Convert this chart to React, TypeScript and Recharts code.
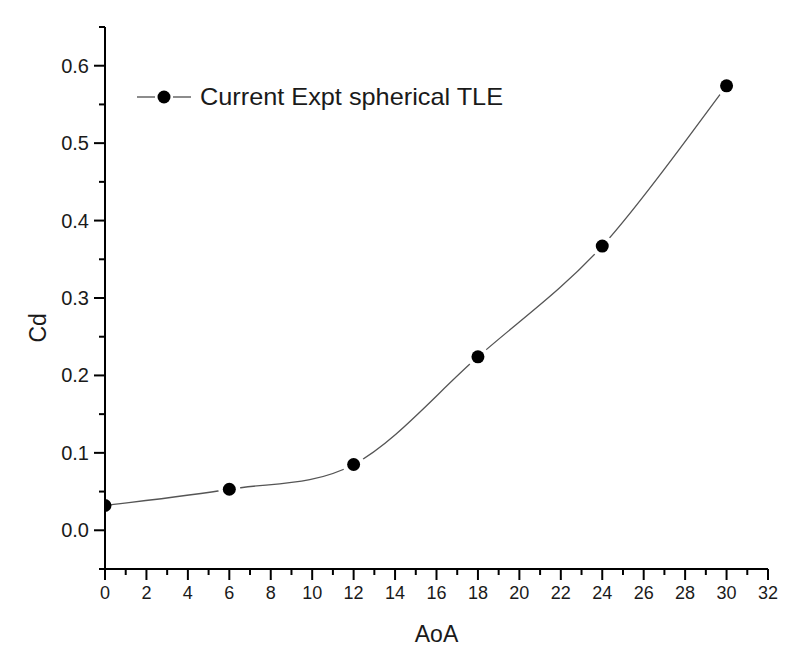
import React from 'react';
import { LineChart, Line, XAxis, YAxis, Legend } from 'recharts';

const aoa = [0, 6, 12, 18, 24, 30];
const cd = [0.032, 0.053, 0.085, 0.224, 0.367, 0.574];
const seriesName = 'Current Expt spherical TLE';
const xTicks = Array.from({ length: 33 }, (_, i) => i);
const yTicks = [-0.05, 0, 0.05, 0.1, 0.15, 0.2, 0.25, 0.3, 0.35, 0.4, 0.45, 0.5, 0.55, 0.6, 0.65];
const yMajor = [0, 0.1, 0.2, 0.3, 0.4, 0.5, 0.6];

const data = aoa.map((a, i) => ({ aoa: a, cd: cd[i] }));

const FONT = '"Liberation Sans", Arial, sans-serif';
const TEXT = '#1a1a1a';

// Catmull-Rom style smoothing (cardinal spline, tension 0)
function smoothCurve(context: any) {
  let pts: [number, number][] = [];
  return {
    areaStart() {},
    areaEnd() {},
    lineStart() {
      pts = [];
    },
    lineEnd() {
      const n = pts.length;
      if (n === 0) return;
      context.moveTo(pts[0][0], pts[0][1]);
      for (let i = 0; i < n - 1; i++) {
        const p0 = pts[Math.max(0, i - 1)];
        const p1 = pts[i];
        const p2 = pts[i + 1];
        const p3 = pts[Math.min(n - 1, i + 2)];
        context.bezierCurveTo(
          p1[0] + (p2[0] - p0[0]) / 6,
          p1[1] + (p2[1] - p0[1]) / 6,
          p2[0] - (p3[0] - p1[0]) / 6,
          p2[1] - (p3[1] - p1[1]) / 6,
          p2[0],
          p2[1]
        );
      }
    },
    point(x: number, y: number) {
      pts.push([+x, +y]);
    },
  };
}

const XTick = (props: any) => {
  const { x, y, payload } = props;
  const v = payload.value;
  const major = v % 2 === 0;
  return (
    <g>
      <line x1={x} y1={y} x2={x} y2={y + (major ? 11 : 6)} stroke="#000" strokeWidth={2} />
      {major && (
        <text x={x} y={y + 30} textAnchor="middle" fontSize={18} fontFamily={FONT} fill={TEXT}>
          {v}
        </text>
      )}
    </g>
  );
};

const YTick = (props: any) => {
  const { x, y, payload } = props;
  const v = payload.value;
  const major = yMajor.some((m) => Math.abs(m - v) < 1e-6);
  return (
    <g>
      <line x1={x} y1={y} x2={x - (major ? 11 : 6)} y2={y} stroke="#000" strokeWidth={2} />
      {major && (
        <text x={x - 16} y={y + 7} textAnchor="end" fontSize={20} fontFamily={FONT} fill={TEXT}>
          {v.toFixed(1)}
        </text>
      )}
    </g>
  );
};

const Dot = (props: any) => {
  const { cx, cy, index } = props;
  if (cx == null || cy == null) return null;
  if (index === 0) {
    return (
      <path
        d={`M ${cx} ${cy - 6.5} A 6.5 6.5 0 0 1 ${cx} ${cy + 6.5} Z`}
        fill="#000"
      />
    );
  }
  return (
    <g>
      <circle cx={cx} cy={cy} r={11} fill="#fff" />
      <circle cx={cx} cy={cy} r={6.5} fill="#000" />
    </g>
  );
};

const LegendContent = () => (
  <svg width={400} height={30}>
    <line x1={2} y1={15} x2={20} y2={15} stroke="#666" strokeWidth={1.5} />
    <circle cx={29} cy={15} r={6.5} fill="#000" />
    <line x1={38} y1={15} x2={56} y2={15} stroke="#666" strokeWidth={1.5} />
    <text x={65} y={23} fontSize={24} fontFamily={FONT} fill={TEXT} textLength={303} lengthAdjust="spacingAndGlyphs">
      {seriesName}
    </text>
  </svg>
);

export default function App() {
  return (
    <div style={{ position: 'absolute', left: 0, top: 0, background: '#fff' }}>
      <LineChart width={800} height={670} data={data} margin={{ top: 27, right: 32, bottom: 41, left: 45 }}>
        <XAxis
          dataKey="aoa"
          type="number"
          domain={[0, 32]}
          ticks={xTicks}
          interval={0}
          tickSize={0}
          tickMargin={0}
          tick={<XTick />}
          axisLine={{ stroke: '#000', strokeWidth: 2 }}
          height={60}
          label={(p: any) => {
            const vb = p.viewBox;
            return (
              <text x={vb.x + vb.width / 2} y={vb.y + 73} textAnchor="middle" fontSize={23} fontFamily={FONT} fill={TEXT}>
                AoA
              </text>
            );
          }}
        />
        <YAxis
          type="number"
          domain={[-0.05, 0.65]}
          ticks={yTicks}
          interval={0}
          tickSize={0}
          tickMargin={0}
          tick={<YTick />}
          axisLine={{ stroke: '#000', strokeWidth: 2 }}
          width={60}
          label={(p: any) => {
            const vb = p.viewBox;
            const cx = vb.x - 7;
            const cy = vb.y + vb.height * 0.555;
            return (
              <text x={cx} y={cy} textAnchor="middle" dominantBaseline="central" transform={`rotate(-90 ${cx} ${cy})`} fontSize={23} fontFamily={FONT} fill={TEXT}>
                Cd
              </text>
            );
          }}
        />
        <Legend
          layout="horizontal"
          verticalAlign="middle"
          align="center"
          content={<LegendContent />}
          wrapperStyle={{ position: 'absolute', left: 135, top: 82, width: 400, height: 30 }}
        />
        <Line
          type={smoothCurve as any}
          dataKey="cd"
          name={seriesName}
          stroke="#555"
          strokeWidth={1.3}
          dot={<Dot />}
          activeDot={false}
          isAnimationActive={false}
        />
      </LineChart>
    </div>
  );
}
